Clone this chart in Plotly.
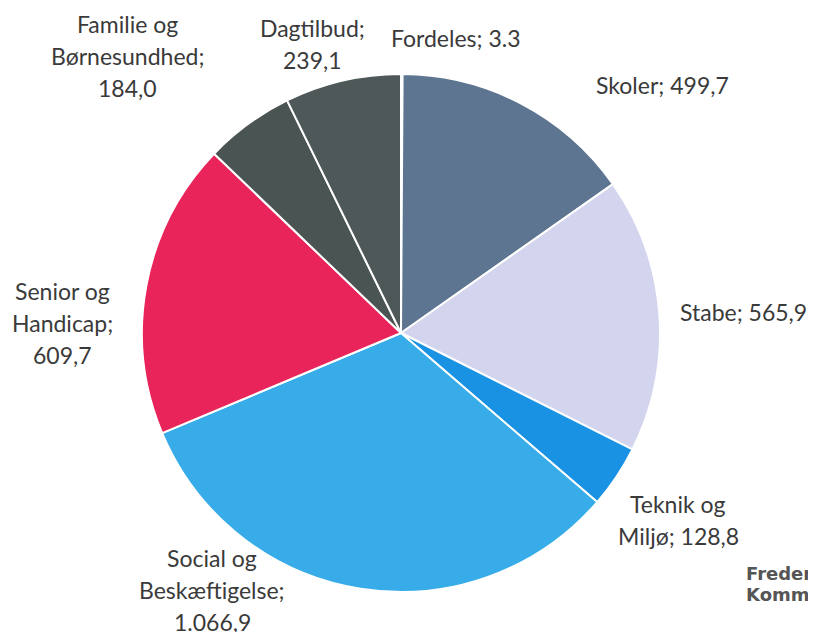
import plotly.graph_objects as go

# Data (clockwise from 12 o'clock)
categories = ["Fordeles", "Skoler", "Stabe", "Teknik og Miljø",
              "Social og Beskæftigelse", "Senior og Handicap",
              "Familie og Børnesundhed", "Dagtilbud"]
values = [3.3, 499.7, 565.9, 128.8, 1066.9, 609.7, 184.0, 239.1]
value_labels = ["3.3", "499,7", "565,9", "128,8", "1.066,9", "609,7", "184,0", "239,1"]
label_lines = [
    ["Fordeles; {v}"],
    ["Skoler; {v}"],
    ["Stabe; {v}"],
    ["Teknik og", "Miljø; {v}"],
    ["Social og", "Beskæftigelse;", "{v}"],
    ["Senior og", "Handicap;", "{v}"],
    ["Familie og", "Børnesundhed;", "{v}"],
    ["Dagtilbud;", "{v}"],
]
colors = ["#f4f4f4", "#5e7591", "#d3d4ee", "#1a92e4", "#37ace8",
          "#e8245a", "#4a5453", "#4f5858"]

# page offset (browser body margin)
OFF = 8
# label anchor positions in screenshot pixels (x centre, y centre of first line)
label_pos = [(456, 38), (662, 85), (743, 312), (678, 504),
             (212, 558), (62, 291), (127, 24), (312, 28)]
LINE = 32

W, H = 816, 632
cx, cy, r = 401 - OFF, 333 - OFF, 259

fig = go.Figure(go.Pie(
    labels=categories,
    values=values,
    sort=False,
    direction="clockwise",
    rotation=0,
    textinfo="none",
    hoverinfo="label+value",
    marker=dict(colors=colors, line=dict(color="white", width=2)),
    domain=dict(x=[(cx - r) / W, (cx + r) / W],
                y=[1 - (cy + r) / H, 1 - (cy - r) / H]),
    showlegend=False,
))

annotations = []
for lines, v, (px, py) in zip(label_lines, value_labels, label_pos):
    for i, ln in enumerate(lines):
        annotations.append(dict(
            text=ln.format(v=v), x=(px - OFF) / W, y=1 - (py - OFF + i * LINE) / H,
            xref="paper", yref="paper", xanchor="center", yanchor="middle",
            showarrow=False, align="center",
            font=dict(family="Lato", size=23, color="#3a3a3a"),
        ))
for i, ln in enumerate(["Frederiksberg", "Kommune"]):
    annotations.append(dict(
        text="<b>" + ln + "</b>", x=(744 - OFF) / W, y=1 - (573 - OFF + i * 21) / H,
        xref="paper", yref="paper", xanchor="left", yanchor="middle",
        showarrow=False, align="left",
        font=dict(family="DejaVu Sans", size=18, color="#555555"),
    ))

fig.update_layout(
    width=W, height=H,
    margin=dict(l=0, r=0, t=0, b=0),
    paper_bgcolor="white", plot_bgcolor="white",
    annotations=annotations,
)

fig.write_html("out.html")
